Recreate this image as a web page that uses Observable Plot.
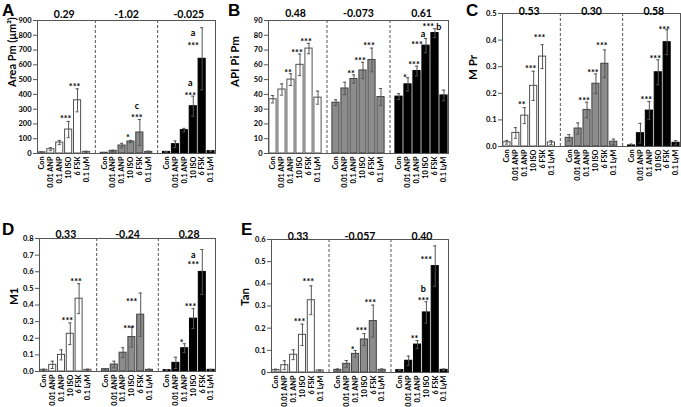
<!DOCTYPE html>
<html>
<head>
<meta charset="utf-8">
<script src="https://cdn.jsdelivr.net/npm/d3@7"></script>
<script src="https://cdn.jsdelivr.net/npm/@observablehq/plot@0.6"></script>
<style>
  body { margin: 0; background: #fff; }
  #fig { position: relative; width: 681px; height: 407px; background: #fff; overflow: hidden; }
  .panel { position: absolute; }
  .letter { position: absolute; font: bold 17px "Liberation Sans", Arial, sans-serif; line-height: 1; color: #000; }
</style>
</head>
<body>
<div id="fig"></div>
<script>
// ---------- data ----------
const treatments = ["Con", "0.01 ANP", "0.1 ANP", "10 ISO", "6 FSK", "0.1 LyM"];
const groupFills = ["#ffffff", "#8c8c8c", "#000000"];
const groupStrokes = ["#505050", "#404040", "#000000"];

// Panel A: Area Pm (µm²)
const areaMean = [[8, 29, 74, 162, 360, 11], [5, 18, 54, 81, 142, 11], [11, 63, 158, 320, 641, 16]];
const areaErr  = [[3, 10, 14, 55, 78, 4], [2, 4, 15, 8, 88, 5], [3, 22, 12, 68, 210, 4]];
const areaCorr = ["0.29", "-1.02", "-0.025"];
const areaStars = [[0,3,"***",248],[0,4,"***",466],[1,3,"*",124],[1,4,"***",259],[1,4,"c",315],
                   [2,3,"***",406],[2,3,"a",474],[2,4,"***",744],[2,4,"a",812]];
const areaTicks = [0,100,200,300,400,500,600,700,800,900];

// Panel B: API Pi Pm
const apiMean = [[36.7, 43.3, 50, 60, 71, 37.8], [34.4, 44, 50.4, 56.2, 63.3, 38.2], [38.5, 46.8, 55.8, 73, 81.5, 39.3]];
const apiErr  = [[2.5, 3.8, 4, 7.3, 3.5, 4.4], [2, 4.2, 2.8, 5.5, 8, 5.8], [2, 4.5, 3.3, 4.8, 3, 3.6]];
const apiCorr = ["0.48", "-0.073", "0.61"];
const apiStars = [[0,2,"**",56],[0,3,"***",69.3],[0,4,"***",77.3],[1,2,"**",55.5],[1,3,"***",64],[1,4,"***",74.4],
                  [2,1,"*",52.8],[2,2,"***",61.8],[2,3,"***",75.3],[2,3,"a",80.3],[2,4,"*** b",87.3]];
const apiTicks = [0,10,20,30,40,50,60,70,80,90];

// Panel C: M Pr
const mprMean = [[0.016, 0.051, 0.116, 0.228, 0.338, 0.015], [0.0325, 0.0675, 0.1375, 0.236, 0.311, 0.018], [0.004, 0.05, 0.135, 0.279, 0.392, 0.014]];
const mprErr  = [[0.007, 0.02, 0.03, 0.055, 0.045, 0.007], [0.012, 0.021, 0.029, 0.037, 0.052, 0.01], [0.005, 0.037, 0.034, 0.047, 0.047, 0.008]];
const mprCorr = ["0.53", "0.30", "0.58"];
const mprStars = [[0,2,"**",0.164],[0,3,"***",0.30],[0,4,"***",0.416],[1,2,"***",0.179],[1,3,"***",0.286],[1,4,"***",0.386],
                  [2,2,"***",0.184],[2,3,"***",0.338],[2,4,"***",0.447]];
const mprTicks = [0,0.1,0.2,0.3,0.4,0.5];

// Panel D: M1
const m1Mean = [[0.01, 0.04, 0.10, 0.227, 0.438, 0.01], [0.014, 0.042, 0.113, 0.207, 0.342, 0.01], [0.008, 0.052, 0.14, 0.318, 0.599, 0.01]];
const m1Err  = [[0.004, 0.022, 0.03, 0.065, 0.09, 0.004], [0.004, 0.02, 0.03, 0.06, 0.13, 0.004], [0.003, 0.034, 0.027, 0.06, 0.135, 0.003]];
const m1Corr = ["0.33", "-0.24", "0.28"];
const m1Stars = [[0,3,"***",0.32],[0,4,"***",0.555],[1,3,"***",0.271],[1,4,"***",0.432],
                 [2,2,"*",0.187],[2,3,"***",0.402],[2,4,"***",0.652],[2,4,"a",0.695]];
const m1Ticks = [0,0.1,0.2,0.3,0.4,0.5,0.6,0.7,0.8];

// Panel E: Tan
const tanMean = [[0.011, 0.033, 0.08, 0.17, 0.326, 0.009], [0.012, 0.039, 0.084, 0.149, 0.232, 0.012], [0.011, 0.053, 0.126, 0.271, 0.48, 0.012]];
const tanErr  = [[0.004, 0.02, 0.022, 0.048, 0.065, 0.003], [0.004, 0.015, 0.015, 0.027, 0.072, 0.004], [0.003, 0.021, 0.018, 0.048, 0.091, 0.004]];
const tanCorr = ["0.33", "-0.057", "0.40"];
const tanStars = [[0,3,"***",0.24],[0,4,"***",0.417],[1,2,"*",0.114],[1,3,"***",0.198],[1,4,"***",0.326],
                  [2,2,"**",0.161],[2,3,"***",0.335],[2,3,"b",0.372],[2,4,"***",0.517]];
const tanTicks = [0,0.1,0.2,0.3,0.4,0.5,0.6];

// ---------- layout ----------
const fmtInt = d3.format("d"), fmt1 = d3.format(".1f");
const panels = [
  {letter: "A", lx: 2, ly: 2, label: "Area Pm (μm²)", labelSize: 11, labelDx: -25,
   mean: areaMean, err: areaErr, corr: areaCorr, stars: areaStars, ticks: areaTicks, fmt: fmtInt,
   left: 0, top: 0, width: 222, height: 200, mt: 20, mb: 47, ml: 37, mr: 7, titleDy: -10},
  {letter: "B", lx: 228, ly: 2, label: "API Pi Pm", labelSize: 11.5, labelDx: -33,
   mean: apiMean, err: apiErr, corr: apiCorr, stars: apiStars, ticks: apiTicks, fmt: fmtInt,
   left: 222, top: 0, width: 228, height: 200, mt: 20, mb: 47, ml: 46, mr: 2, titleDy: -11},
  {letter: "C", lx: 466, ly: 2, label: "M Pr", labelSize: 11.5, labelDx: -29,
   mean: mprMean, err: mprErr, corr: mprCorr, stars: mprStars, ticks: mprTicks, fmt: fmt1,
   left: 450, top: 0, width: 231, height: 200, mt: 13, mb: 54, ml: 52, mr: 1, titleDy: -6},
  {letter: "D", lx: 2, ly: 221, label: "M1", labelSize: 11.5, labelDx: -25,
   mean: m1Mean, err: m1Err, corr: m1Corr, stars: m1Stars, ticks: m1Ticks, fmt: fmt1,
   left: 0, top: 205, width: 222, height: 202, mt: 33, mb: 36, ml: 39, mr: 7, titleDy: -8},
  {letter: "E", lx: 241, ly: 221, label: "Tan", labelSize: 11.5, labelDx: -26,
   mean: tanMean, err: tanErr, corr: tanCorr, stars: tanStars, ticks: tanTicks, fmt: d => d === 0 ? "0" : fmt1(d),
   left: 222, top: 205, width: 228, height: 202, mt: 34, mb: 35, ml: 49, mr: 2, titleDy: -7}
];

const fig = document.getElementById("fig");
const SLOT = 7; // 6 bars + 1 gap per group

for (const p of panels) {
  const rows = [];
  p.mean.forEach((g, gi) => g.forEach((v, ti) => rows.push({
    slot: gi * SLOT + ti, g: gi, v, e: p.err[gi][ti], name: treatments[ti]
  })));
  const nameBySlot = new Map(rows.map(d => [d.slot, d.name]));
  const ymax = p.ticks[p.ticks.length - 1];
  const topOf = (gi, ti) => p.mean[gi][ti] + p.err[gi][ti];
  const stars = p.stars.map(([gi, ti, t, y]) => ({slot: gi * SLOT + ti, t, y, shifted: y < topOf(gi, ti), star: t.includes("*")}));
  const sel = (shifted, star) => stars.filter(d => d.shifted === shifted && d.star === star);
  const starOpts = {x: "slot", y: "y", text: "t", fontSize: 9, fontWeight: 700};

  const chart = Plot.plot({
    width: p.width, height: p.height,
    marginLeft: p.ml, marginRight: p.mr, marginTop: p.mt, marginBottom: p.mb,
    style: {fontFamily: "Lato, 'Open Sans', sans-serif", fontWeight: 700, fontSize: "8px", color: "#000", background: "transparent", overflow: "visible"},
    x: {type: "linear", domain: [-0.5, 3 * SLOT - 1.5], label: null},
    y: {domain: [0, ymax], label: null},
    color: {type: "identity"},
    marks: [
      Plot.rectY(rows, {x1: d => d.slot - 0.4, x2: d => d.slot + 0.4, y1: 0, y2: "v",
        fill: d => groupFills[d.g], stroke: d => groupStrokes[d.g], strokeWidth: 1}),
      Plot.ruleX(rows, {x: "slot", y1: d => Math.max(0, d.v - d.e), y2: d => d.v + d.e, stroke: "#555", strokeWidth: 1}),
      Plot.ruleY(rows, {y: d => d.v + d.e, x1: d => d.slot - 0.18, x2: d => d.slot + 0.18, stroke: "#555", strokeWidth: 1}),
      Plot.ruleY(rows, {y: d => Math.max(0, d.v - d.e), x1: d => d.slot - 0.18, x2: d => d.slot + 0.18, stroke: "#555", strokeWidth: 1}),
      Plot.ruleX([SLOT - 1, 2 * SLOT - 1], {stroke: "#555", strokeDasharray: "3,2", strokeWidth: 1}),
      Plot.frame({stroke: "#555", strokeWidth: 1}),
      Plot.axisY(p.ticks, {tickFormat: p.fmt, tickSize: 4, tickPadding: 2, fontSize: 7.5, stroke: "#555", label: null}),
      Plot.axisX(rows.map(d => d.slot), {tickFormat: s => nameBySlot.get(s), tickRotate: -90, tickSize: 0, tickPadding: 3, fontSize: 7.3, label: null}),
      Plot.text(sel(false, true), {...starOpts, dx: -3, dy: 2.5}),
      Plot.text(sel(true, true), {...starOpts, dx: -9, dy: 2.5}),
      Plot.text(sel(false, false), {...starOpts, dx: -3, dy: -0.5}),
      Plot.text(sel(true, false), {...starOpts, dx: -9, dy: -0.5}),
      Plot.text(p.corr, {x: (d, i) => i * SLOT + 2.5, frameAnchor: "top", dy: p.titleDy, text: d => d, fontSize: 10.5, fontWeight: 700}),
      Plot.text([p.label], {frameAnchor: "left", rotate: -90, dx: p.labelDx, text: d => d, fontSize: p.labelSize, fontWeight: 700})
    ]
  });
  const wrap = document.createElement("div");
  wrap.className = "panel";
  wrap.style.left = p.left + "px";
  wrap.style.top = p.top + "px";
  wrap.appendChild(chart);
  fig.appendChild(wrap);

  const L = document.createElement("div");
  L.className = "letter";
  L.style.left = p.lx + "px";
  L.style.top = p.ly + "px";
  L.textContent = p.letter;
  fig.appendChild(L);
}
</script>
</body>
</html>
